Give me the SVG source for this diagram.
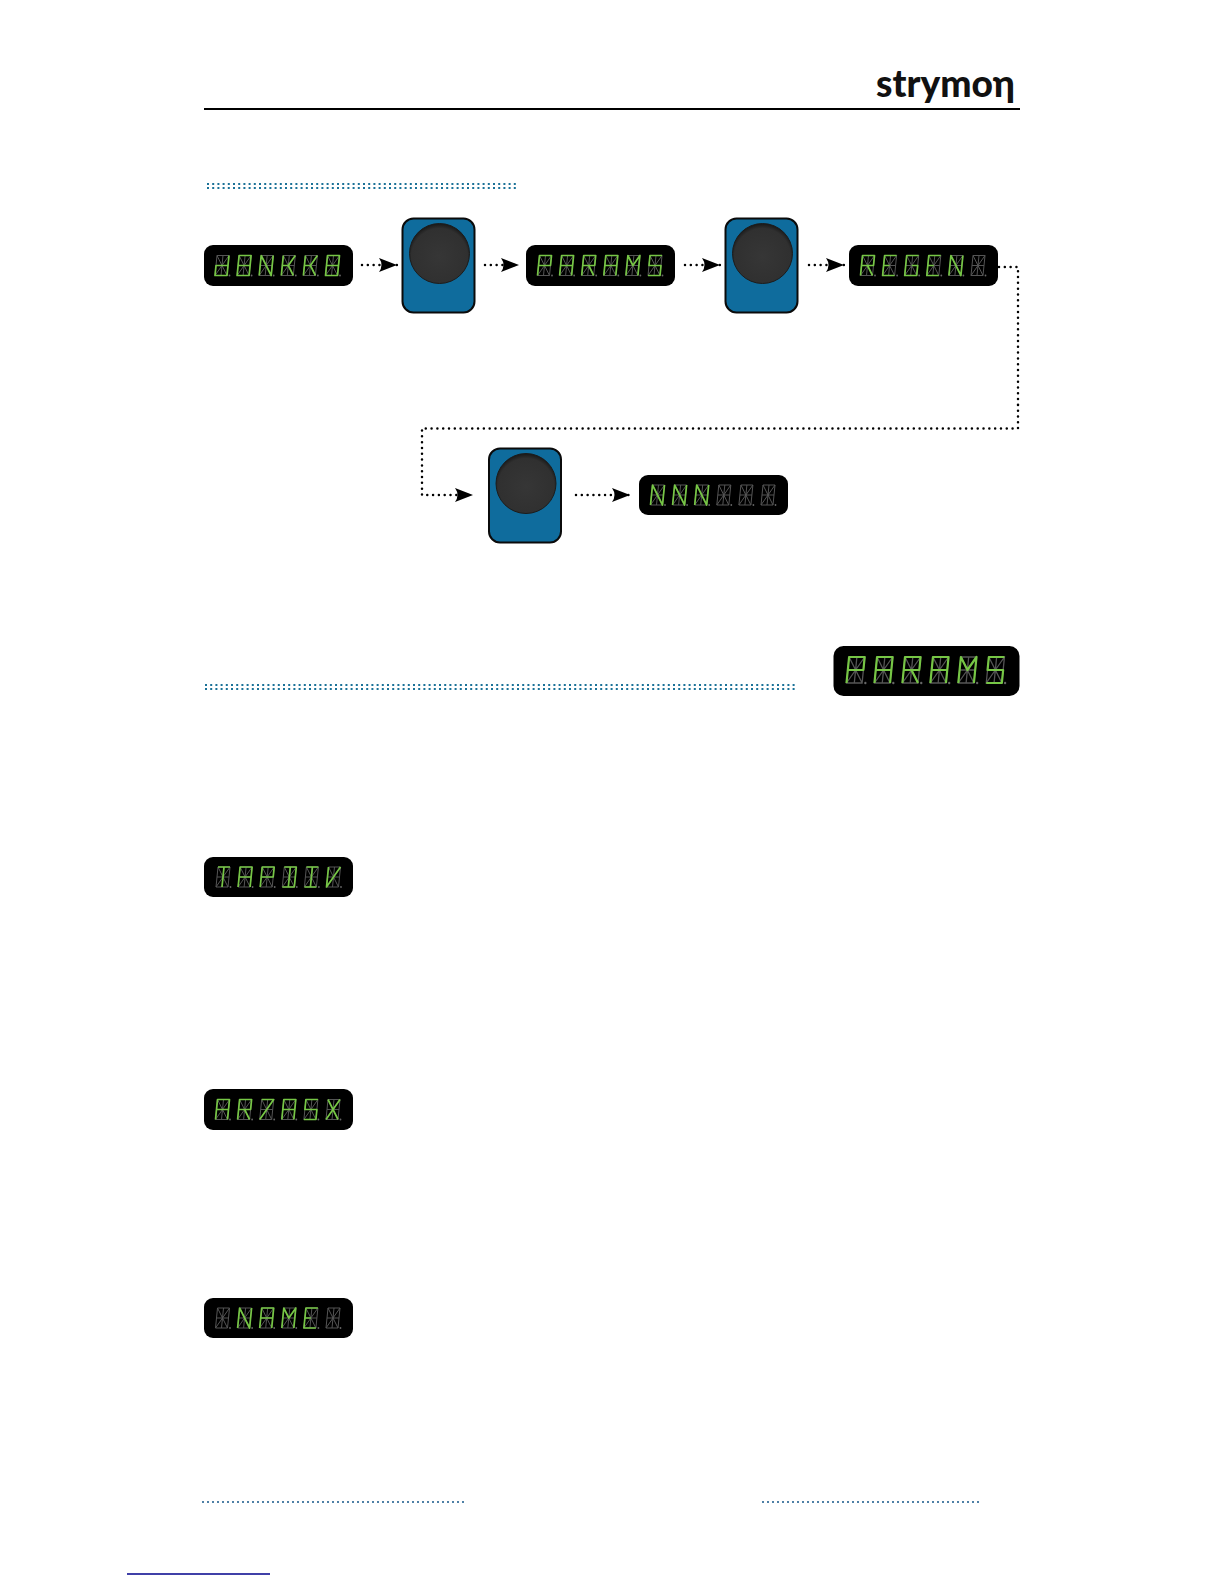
<svg xmlns="http://www.w3.org/2000/svg" width="1224" height="1584" viewBox="0 0 1224 1584">
<style>
.lcd{fill:#000}
.dim{fill:none;stroke:#555;stroke-width:1}
.on{fill:none;stroke:#76c645;stroke-width:1.7;stroke-linejoin:round}
.block{fill:#0f6c9d;stroke:#0b0b0b;stroke-width:2}
.knob{fill:url(#kg);stroke:#1c1c1c;stroke-width:1}
.flow{fill:none;stroke:#000;stroke-width:2.500;stroke-linecap:round;stroke-dasharray:.01 5.800}
.rule{fill:none;stroke:#1b7298;stroke-width:2;stroke-dasharray:2 3.200}
.foot{fill:none;stroke:#4e80a6;stroke-width:2;stroke-dasharray:2 3}
</style>
<defs>
<radialGradient id="kg" cx=".5" cy=".55" r=".55"><stop offset="0" stop-color="#363636"/><stop offset=".85" stop-color="#303030"/><stop offset="1" stop-color="#181818"/></radialGradient>
<marker id="ah" viewBox="0 0 18 14" refX="18" refY="7" markerWidth="18" markerHeight="14" markerUnits="userSpaceOnUse" orient="auto"><path d="M0 0L18 7L0 14Q5 7 0 0Z" fill="#000"/></marker>
<g id="dim"><path class="dim" d="M2 0H14L12 20H0ZM1 10H13M2 0L12 20M14 0L0 20M8 0L6 20"/><circle cx="14.500" cy="20" r=".9" fill="#666"/></g>
<g id="c0"><use href="#dim"/></g>
<g id="cA"><use href="#dim"/><path class="on" d="M0 20L2 0H14L12 20M1 10H13"/></g>
<g id="cB"><use href="#dim"/><path class="on" d="M2 0H14L12 20H0ZM1 10H13"/></g>
<g id="cN"><use href="#dim"/><path class="on" d="M0 20L2 0L12 20L14 0"/></g>
<g id="cK"><use href="#dim"/><path class="on" d="M0 20L2 0M1 10H7L14 0M7 10L12 20"/></g>
<g id="cP"><use href="#dim"/><path class="on" d="M0 20L2 0H14L13 10H1"/></g>
<g id="cR"><use href="#dim"/><path class="on" d="M0 20L2 0H14L13 10H1M7 10L12 20"/></g>
<g id="cM"><use href="#dim"/><path class="on" d="M0 20L2 0L7 10L14 0L12 20"/></g>
<g id="cS"><use href="#dim"/><path class="on" d="M14 0H2L1 10H13L12 20H0"/></g>
<g id="cE"><use href="#dim"/><path class="on" d="M14 0H2L0 20H12M1 10H7"/></g>
<g id="cG"><use href="#dim"/><path class="on" d="M14 0H2L0 20H12L13 10H7"/></g>
<g id="cT"><use href="#dim"/><path class="on" d="M2 0H14M8 0L6 20"/></g>
<g id="cD"><use href="#dim"/><path class="on" d="M2 0H14L12 20H0M8 0L6 20"/></g>
<g id="cI"><use href="#dim"/><path class="on" d="M2 0H14M8 0L6 20M0 20H12"/></g>
<g id="cV"><use href="#dim"/><path class="on" d="M2 0L0 20L14 0"/></g>
<g id="cX"><use href="#dim"/><path class="on" d="M2 0L12 20M14 0L0 20"/></g>
<g id="c7"><use href="#dim"/><path class="on" d="M2 0H14L0 20"/></g>
<g id="cU"><use href="#dim"/><path class="on" d="M14 0L12 20H0L1 10H13"/></g>
<g id="knobblock"><rect class="block" width="72" height="94" rx="11"/><circle class="knob" cx="37" cy="35" r="30"/></g>
</defs>
<rect width="1224" height="1584" fill="#fff"/>

<g id="header">
<text x="876" y="97" font-family="Lato,'Open Sans',sans-serif" font-weight="900" font-size="37" textLength="139" lengthAdjust="spacingAndGlyphs" fill="#111">strymoη</text>
<line x1="204" y1="109" x2="1020" y2="109" stroke="#000" stroke-width="2"/>
</g>

<g id="rules">
<path class="rule" d="M207 184H516M207 188H516"/>
<path class="rule" d="M205 685H796M205 689H796"/>
<path class="foot" d="M202 1502H464M762 1502H980"/>
<line x1="127" y1="1574" x2="270" y2="1574" stroke="#00008b" stroke-width="1.400"/>
</g>

<g id="connectors">
<path class="flow" d="M362 265H397" marker-end="url(#ah)"/>
<path class="flow" d="M485 265H519" marker-end="url(#ah)"/>
<path class="flow" d="M685 265H720" marker-end="url(#ah)"/>
<path class="flow" d="M809 265H844" marker-end="url(#ah)"/>
<path class="flow" d="M999 267H1018V428.500H422V495H473" marker-end="url(#ah)"/>
<path class="flow" d="M576 495H630" marker-end="url(#ah)"/>
</g>

<g id="display-1" transform="translate(204,245)"><rect class="lcd" width="149" height="41" rx="9"/>
<use href="#cU" x="11" y="10.500"/><use href="#cB" x="33.100" y="10.500"/><use href="#cN" x="55.200" y="10.500"/><use href="#cK" x="77.300" y="10.500"/><use href="#cK" x="99.400" y="10.500"/><use href="#cB" x="121.500" y="10.500"/></g>
<g id="knob-1" transform="translate(402.500,218.500)"><use href="#knobblock"/></g>
<g id="display-2" transform="translate(526,245)"><rect class="lcd" width="149" height="41" rx="9"/>
<use href="#cP" x="11.500" y="10.500"/><use href="#cA" x="33.600" y="10.500"/><use href="#cR" x="55.700" y="10.500"/><use href="#cA" x="77.800" y="10.500"/><use href="#cM" x="99.900" y="10.500"/><use href="#cS" x="122" y="10.500"/></g>
<g id="knob-2" transform="translate(725.500,218.500)"><use href="#knobblock"/></g>
<g id="display-3" transform="translate(849,245)"><rect class="lcd" width="149" height="41" rx="9"/>
<use href="#cR" x="11.500" y="10.500"/><use href="#cE" x="33.600" y="10.500"/><use href="#cG" x="55.700" y="10.500"/><use href="#cE" x="77.800" y="10.500"/><use href="#cN" x="99.900" y="10.500"/><use href="#c0" x="122" y="10.500"/></g>
<g id="knob-3" transform="translate(489,448.500)"><use href="#knobblock"/></g>
<g id="display-4" transform="translate(639,475)"><rect class="lcd" width="149" height="40" rx="9"/>
<use href="#cN" x="11.500" y="10"/><use href="#cN" x="33.600" y="10"/><use href="#cN" x="55.700" y="10"/><use href="#c0" x="77.800" y="10"/><use href="#c0" x="99.900" y="10"/><use href="#c0" x="122" y="10"/></g>
<g id="display-5" transform="translate(833.500,646)"><rect class="lcd" width="186" height="50" rx="10"/>
<g transform="translate(13,11) scale(1.3)"><use href="#cP" x="0" y="0"/><use href="#cA" x="21.500" y="0"/><use href="#cR" x="43" y="0"/><use href="#cA" x="64.500" y="0"/><use href="#cM" x="86" y="0"/><use href="#cS" x="107.500" y="0"/></g></g>
<g id="display-6" transform="translate(204,857)"><rect class="lcd" width="149" height="40" rx="9"/>
<use href="#cT" x="12" y="10"/><use href="#cA" x="34.100" y="10"/><use href="#cP" x="56.200" y="10"/><use href="#cD" x="78.300" y="10"/><use href="#cI" x="100.400" y="10"/><use href="#cV" x="122.500" y="10"/></g>
<g id="display-7" transform="translate(204,1089)"><rect class="lcd" width="149" height="41" rx="9"/>
<use href="#cA" x="11.500" y="10.500"/><use href="#cR" x="33.600" y="10.500"/><use href="#c7" x="55.700" y="10.500"/><use href="#cA" x="77.800" y="10.500"/><use href="#cS" x="99.900" y="10.500"/><use href="#cX" x="122" y="10.500"/></g>
<g id="display-8" transform="translate(204,1298)"><rect class="lcd" width="149" height="40" rx="9"/>
<use href="#c0" x="11.500" y="10"/><use href="#cN" x="33.600" y="10"/><use href="#cA" x="55.700" y="10"/><use href="#cM" x="77.800" y="10"/><use href="#cE" x="99.900" y="10"/><use href="#c0" x="122" y="10"/></g>
</svg>
